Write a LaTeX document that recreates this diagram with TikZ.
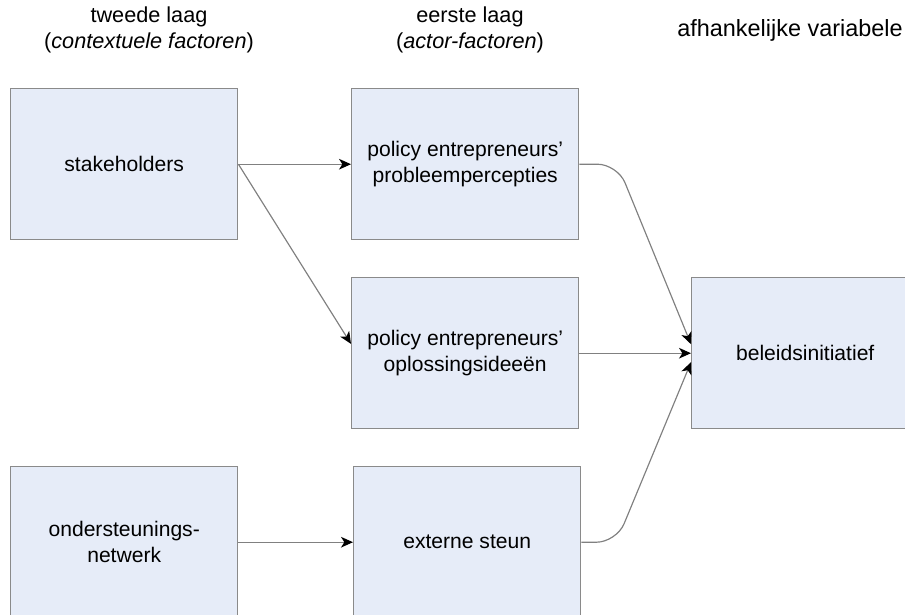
\documentclass[tikz,border=0pt]{standalone}
\usepackage{fontspec}
\setmainfont{Liberation Sans}
\usetikzlibrary{arrows.meta}
\definecolor{boxfill}{HTML}{E6ECF8}
\definecolor{boxline}{HTML}{8A8A8A}
\definecolor{wire}{HTML}{808080}
\begin{document}
\begin{tikzpicture}[x=0.03cm,y=-0.03cm,
  factor/.style={draw=boxline,fill=boxfill,line width=1.2pt,
    minimum width=6.81cm,minimum height=4.53cm,inner sep=0pt,
    anchor=north west,align=center,font=\fontsize{18}{22}\selectfont},
  head/.style={align=center,font=\fontsize{18.5}{22.5}\selectfont},
  link/.style={draw=wire,line width=1pt,
    -{Stealth[length=0.36cm,width=0.32cm,inset=0.1cm,color=black]}}]
\useasboundingbox (0,0) rectangle (905,614);
\clip (0,0) rectangle (905,614);

% column headings
\node[head] (h1) at (149,30) {tweede laag\\(\textit{contextuele factoren})};
\node[head] (h2) at (470,30) {eerste laag\\(\textit{actor-factoren})};
\node[head,font=\fontsize{20}{24}\selectfont] (h3) at (790,30) {afhankelijke variabele};

% factors
\node[factor] (s)  at (10,88)   {stakeholders};
\node[factor] (p1) at (351,88)  {policy entrepreneurs'\\probleempercepties};
\node[factor] (p2) at (351,277) {policy entrepreneurs'\\oplossingsideeën};
\node[factor] (b)  at (691,277) {beleidsinitiatief};
\node[factor] (o)  at (10,466)  {ondersteunings-\\netwerk};
\node[factor] (e)  at (353,466) {externe steun};

% influences
\draw[link] (s.east) -- (p1.west);
\draw[link] (s.east) -- ([yshift=0.28cm]p2.west);
\draw[link] (p2.east) -- (b.west);
\draw[link,rounded corners=0.6cm] (p1.east) -- ++(38,0) -- ([yshift=0.27cm]b.west);
\draw[link,rounded corners=0.6cm] (e.east) -- ++(35,0) -- ([yshift=-0.27cm]b.west);
\draw[link] (o.east) -- (e.west);
\end{tikzpicture}
\end{document}
